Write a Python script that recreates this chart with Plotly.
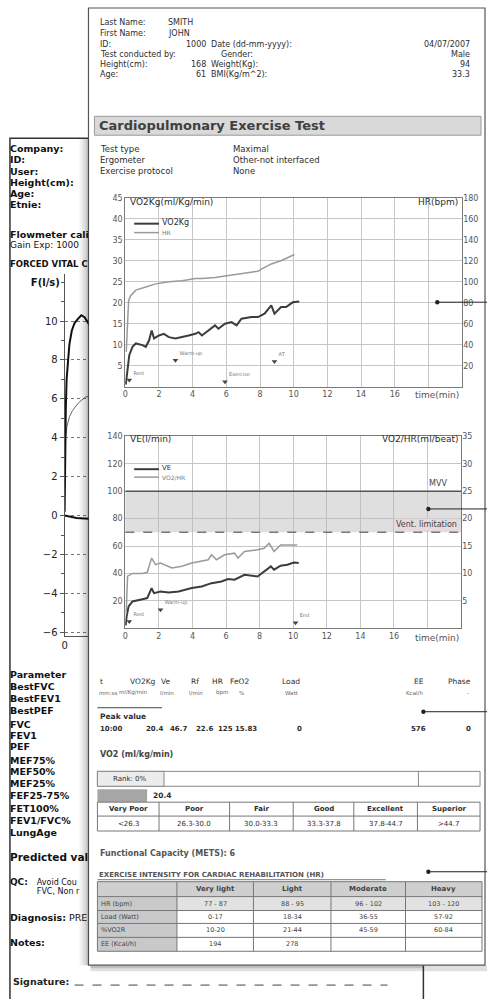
import plotly.graph_objects as go

W, H = 487, 999
FONT = "DejaVu Sans"

# ---------------- data ----------------
# Chart 1: VO2Kg (ml/Kg/min, left axis) and HR (bpm, right axis) vs time (min)
t_vo2kg = [0.03, 0.08, 0.16, 0.24, 0.43, 0.63, 1.02, 1.22, 1.41, 1.57, 1.71, 2.0, 2.29, 2.59, 2.98,
           3.37, 3.76, 4.16, 4.35, 4.55, 4.94, 5.33, 5.53, 5.92, 6.31, 6.61, 6.9, 7.49, 7.88, 8.27,
           8.67, 8.86, 9.25, 9.55, 9.94, 10.33]
vo2kg = [0.5, 2.5, 6.0, 7.5, 9.5, 10.3, 9.9, 9.5, 11.0, 13.4, 11.5, 12.2, 12.6, 11.8, 11.5,
         11.8, 12.2, 12.6, 13.0, 12.2, 13.4, 14.6, 13.8, 15.0, 15.4, 14.6, 16.2, 16.6, 16.6, 17.4,
         19.4, 17.4, 19.0, 19.0, 20.1, 20.3]
t_hr = [0.06, 0.12, 0.2, 0.33, 0.63, 1.22, 1.8, 2.59, 3.37, 4.16, 4.55, 5.33, 6.12, 6.9, 7.88,
        8.08, 8.67, 9.25, 9.84, 10.04]
hr = [33, 60, 82, 87, 92, 95, 98, 100, 101, 103, 103, 104, 106, 108, 110, 112, 117, 120, 124, 126]

ev1_t = [0.24, 2.98, 5.92, 8.86]
ev1_y = [1.6, 6.3, 1.2, 6.0]
ev1_lab = ["Rest", "Warm-up", "Exercise", "AT"]

# Chart 2: VE (l/min, left axis) and VO2/HR (ml/beat, right axis) vs time (min)
t_ve = [0.03, 0.08, 0.2, 0.43, 1.02, 1.31, 1.57, 1.71, 2.1, 2.59, 3.18, 3.96, 4.55, 5.14, 5.73,
        6.12, 6.51, 7.1, 7.88, 8.27, 8.67, 8.86, 9.25, 9.65, 10.04, 10.33]
ve = [2.0, 8.5, 15.9, 19.5, 21.2, 22.0, 29.3, 25.6, 26.8, 26.1, 26.8, 29.3, 30.5, 32.9, 34.1,
      35.9, 35.4, 39.0, 37.8, 41.5, 45.1, 42.7, 45.6, 46.3, 48.0, 47.6]
t_vo2hr = [0.05, 0.1, 0.14, 0.43, 1.02, 1.31, 1.57, 1.8, 2.1, 2.78, 3.37, 3.96, 4.55, 4.94, 5.14,
           5.43, 5.92, 6.51, 6.71, 7.1, 7.88, 8.27, 8.57, 8.86, 9.25, 9.65, 10.24]
vo2hr = [2.5, 6.0, 9.5, 10.0, 10.0, 10.2, 12.8, 11.6, 11.9, 11.0, 11.3, 11.9, 12.2, 12.5, 13.4,
         12.5, 13.4, 13.7, 12.8, 14.0, 14.3, 14.6, 15.5, 14.0, 15.2, 15.2, 15.2]
mvv = 100
vent_limit = 70
ev2_t = [0.24, 2.1, 10.14]
ev2_y = [4.9, 13.4, 4.0]
ev2_lab = ["Rest", "Warm-up", "End"]

time_ticks = [0, 2, 4, 6, 8, 10, 12, 14, 16, 18]
time_labels = ["0", "2", "4", "6", "8", "10", "12", "14", "16", ""]
time_max = 20

# Flow-volume (left page, partly hidden)
vol_exp = [0, 0.003, 0.008, 0.015, 0.03, 0.05, 0.08, 0.12, 0.18, 0.25, 0.33, 0.42, 0.5, 0.58, 0.7, 1.0, 1.5]
flow_exp = [0.2, 1.2, 2.2, 4.0, 5.5, 7.0, 8.0, 8.8, 9.5, 9.9, 10.1, 10.3, 10.2, 9.9, 9.4, 8.5, 7.0]
vol_pred = [0, 0.005, 0.012, 0.025, 0.06, 0.125, 0.2, 0.35, 0.53, 0.7, 1.0]
flow_pred = [1.2, 2.2, 3.2, 4.0, 4.6, 5.1, 5.4, 5.8, 6.1, 6.2, 6.2]
vol_insp = [0, 0.1, 0.3, 0.5, 0.7]
flow_insp = [0, -0.05, -0.12, -0.15, -0.18]

# Report texts
header_left = [("Last Name:", "SMITH"), ("First Name:", "JOHN"), ("ID:", "1000"),
               ("Test conducted by:", ""), ("Height(cm):", "168"), ("Age:", "61")]
header_right = [("", ""), ("", ""), ("Date (dd-mm-yyyy):", "04/07/2007"), ("Gender:", "Male"),
                ("Weight(Kg):", "94"), ("BMI(Kg/m^2):", "33.3")]
test_info = [("Test type", "Maximal"), ("Ergometer", "Other-not interfaced"), ("Exercise protocol", "None")]

peak_hdr = ["t", "VO2Kg", "Ve", "Rf", "HR", "FeO2", "Load", "EE", "Phase"]
peak_unit = ["mm:ss", "ml/Kg/min", "l/min", "l/min", "bpm", "%", "Watt", "Kcal/h", "-"]
peak_val = ["10:00", "20.4", "46.7", "22.6", "125", "15.83", "0", "576", "0"]

vo2_peak = "20.4"
vo2_rank = "Rank: 0%"
vo2_cat = ["Very Poor", "Poor", "Fair", "Good", "Excellent", "Superior"]
vo2_rng = ["<26.3", "26.3-30.0", "30.0-33.3", "33.3-37.8", "37.8-44.7", ">44.7"]

rehab_cols = ["Very light", "Light", "Moderate", "Heavy"]
rehab_rows = ["HR (bpm)", "Load (Watt)", "%VO2R", "EE (Kcal/h)"]
rehab_vals = [["77 - 87", "88 - 95", "96 - 102", "103 - 120"],
              ["0-17", "18-34", "36-55", "57-92"],
              ["10-20", "21-44", "45-59", "60-84"],
              ["194", "278", "", ""]]

left_labels = ["Company:", "ID:", "User:", "Height(cm):", "Age:", "Etnie:"]
param_labels = ["Parameter", "BestFVC", "BestFEV1", "BestPEF", "FVC", "FEV1", "PEF", "MEF75%",
                "MEF50%", "MEF25%", "FEF25-75%", "FET100%", "FEV1/FVC%", "LungAge"]

# ---------------- helpers ----------------
def px(x): return x / W
def py(y): return 1 - y / H

shapes, anns = [], []

def rect(x0, y0, x1, y1, fill="rgba(0,0,0,0)", line="rgba(0,0,0,0)", lw=0, layer="below"):
    shapes.append(dict(type="rect", xref="paper", yref="paper", x0=px(x0), x1=px(x1),
                       y0=py(y1), y1=py(y0), fillcolor=fill, line=dict(color=line, width=lw), layer=layer))

def seg(x0, y0, x1, y1, color="#555", lw=1, dash="solid", layer="below"):
    shapes.append(dict(type="line", xref="paper", yref="paper", x0=px(x0), x1=px(x1),
                       y0=py(y0), y1=py(y1), line=dict(color=color, width=lw, dash=dash), layer=layer))

def dot(x, y, r=2.2):
    shapes.append(dict(type="circle", xref="paper", yref="paper", x0=px(x - r), x1=px(x + r),
                       y0=py(y + r), y1=py(y - r), fillcolor="#222", line=dict(color="#222", width=0), layer="above"))

TXT = "#2e2e2e"
def text(x, y, s, size=8, bold=False, anchor="left", color=TXT, **kw):
    anns.append(dict(xref="paper", yref="paper", x=px(x), y=py(y), text=f"<b>{s}</b>" if bold else s,
                     showarrow=False, xanchor=anchor, yanchor="middle",
                     font=dict(family=FONT, size=size, color=color), borderpad=0, **kw))

# ---------------- pages ----------------
rect(7, 135, 423, 1010, fill="white", line="#333", lw=1.5)          # back page
rect(86, 4, 485, 967, fill="white", line="#555", lw=1.2)            # front page
# shadow of the front page on the back page
rect(77, 135.8, 86, 967, fill="rgba(0,0,0,0.05)", layer="above")
rect(80, 135.8, 86, 967, fill="rgba(0,0,0,0.07)", layer="above")
rect(83, 135.8, 86, 967, fill="rgba(0,0,0,0.10)", layer="above")
rect(88, 967.6, 423, 973, fill="rgba(0,0,0,0.12)", layer="above")
rect(88, 967.6, 423, 970, fill="rgba(0,0,0,0.15)", layer="above")
rect(423.8, 967.6, 487, 973, fill="rgba(0,0,0,0.12)", layer="above")

# ---------------- front page header ----------------
hy = [19, 30, 41, 51, 61, 71]
for (lab, val), (lab2, val2), y in zip(header_left, header_right, hy):
    text(97, y, lab, 8)
    if val:
        if lab in ("Last Name:", "First Name:"):
            text(165, y, val, 8)
        else:
            text(205, y, val, 8, anchor="right")
    if lab2:
        x2 = 218 if lab2 == "Gender:" else 208
        text(x2, y, lab2, 8)
        text(471, y, val2, 8, anchor="right")

rect(92, 113, 481, 132, fill="#d9d9d9", line="#9a9a9a", lw=1)
text(96, 122.5, "Cardiopulmonary Exercise Test", 13, bold=True, color="#404040")
for (lab, val), y in zip(test_info, [146, 157, 168]):
    text(97, y, lab, 8.5)
    text(230, y, val, 8.5)

# ---------------- chart 1 decorations ----------------
text(127, 199, "VO2Kg(ml/Kg/min)", 9)
text(459, 199, "HR(bpm)", 9, anchor="right")
seg(132, 221, 157, 221, color="#3c3c3c", lw=2, layer="above")
seg(132, 230, 157, 230, color="#9a9a9a", lw=1.5, layer="above")
text(159, 220, "VO2Kg", 8)
text(159, 230, "HR", 6, color="#777")
text(460, 393, "time(min)", 9, anchor="right", color="#555")

# ---------------- chart 2 decorations ----------------
text(127, 438, "VE(l/min)", 9)
text(459, 438, "VO2/HR(ml/beat)", 9, anchor="right")
seg(132, 468, 157, 468, color="#3c3c3c", lw=2, layer="above")
seg(132, 476, 157, 476, color="#9a9a9a", lw=1.5, layer="above")
text(159, 467, "VE", 7)
text(159, 476, "VO2/HR", 6, color="#777")
text(460, 638, "time(min)", 9, anchor="right", color="#555")
anns.append(dict(xref="x2", yref="y3", x=18.6, y=mvv + 1, text="MVV", showarrow=False,
                 xanchor="center", yanchor="bottom", font=dict(family=FONT, size=8, color="#444")))
anns.append(dict(xref="x2", yref="y3", x=19.9, y=vent_limit + 1, text="Vent. limitation", showarrow=False,
                 xanchor="right", yanchor="bottom", bgcolor="#e6dada",
                 font=dict(family=FONT, size=8, color="#444")))

# ---------------- peak value table ----------------
hdr_x = [97, 155, 170, 198, 222, 249, 300, 425, 472]
unit_x = [96, 147, 173, 202, 227, 244, 299, 424, 470]
val_x = [97, 162, 186, 212, 232, 257, 302, 427, 472]
for i, (hh, uu, vv) in enumerate(zip(peak_hdr, peak_unit, peak_val)):
    anc = "left" if i == 0 else "right"
    text(hdr_x[i], 682, hh, 7.5, anchor=anc)
    text(unit_x[i], 693, uu, 5.5, anchor=anc, color="#666")
    text(val_x[i], 729, vv, 7, bold=True, anchor=anc)
seg(95, 708, 160, 708, color="#444", lw=1)
text(97, 717, "Peak value", 7.5, bold=True)

# ---------------- VO2 rating ----------------
text(97, 755, "VO2 (ml/kg/min)", 8, bold=True, color="#444")
rect(95, 772, 480, 787, fill="white", line="#888", lw=1)
rect(95, 772, 162, 787, fill="#ececec", line="#888", lw=1)
seg(418, 772, 418, 787, color="#888")
text(128, 779.5, vo2_rank, 7, anchor="center")
rect(95, 790, 145, 803, fill="#a6a6a6")
text(150, 796.5, vo2_peak, 7.5, bold=True)
cb = [95, 157, 228, 292, 353, 417, 480]
rect(95, 803, 480, 832, fill="white", line="#777", lw=1)
seg(95, 817, 480, 817, color="#777")
for i in range(6):
    if i > 0:
        seg(cb[i], 803, cb[i], 832, color="#777")
    cx = (cb[i] + cb[i + 1]) / 2
    text(cx, 810, vo2_cat[i], 7, bold=True, anchor="center")
    text(cx, 824.5, vo2_rng[i], 7, anchor="center")

# ---------------- rehabilitation table ----------------
text(97, 855, "Functional Capacity (METS): 6", 8, bold=True, color="#555")
text(96, 876, "EXERCISE INTENSITY FOR CARDIAC REHABILITATION (HR)", 7, bold=True, color="#555")
seg(95, 881, 385, 881, color="#777")
rb = [883, 898, 912, 925, 939, 953]
kb = [95, 175, 252, 330, 405, 482]
rect(95, 883, 482, 898, fill="#cfcfcf")
rect(175, 898, 482, 912, fill="#e2e2e2")
rect(95, 898, 175, 953, fill="#c9c9c9")
for y in rb:
    seg(95, y, 482, y, color="#777")
for x in kb:
    seg(x, 883, x, 953, color="#777")
for j, c in enumerate(rehab_cols):
    text((kb[j + 1] + kb[j + 2]) / 2, 890.5, c, 7, bold=True, anchor="center", color="#444")
for i, r in enumerate(rehab_rows):
    yc = (rb[i + 1] + rb[i + 2]) / 2
    text(98, yc, r, 6.5, color="#444")
    for j, v in enumerate(rehab_vals[i]):
        if v:
            text((kb[j + 1] + kb[j + 2]) / 2, yc, v, 6.5, anchor="center", color="#444")

# ---------------- call-out pointers ----------------
for (x, y) in [(437, 300), (428, 508), (423, 712), (428, 873)]:
    seg(x, y, 487, y, color="#222", lw=1, layer="above")
    dot(x, y)

# ---------------- back page text (clipped at the front page edge) ----------------
lp_x, lp_y, lp_t, lp_s = [], [], [], []
def lp(x, y, s, size=9.5):
    lp_x.append(x); lp_y.append(y); lp_t.append(s); lp_s.append(size)

for lab, y in zip(left_labels, [147, 158, 170, 181, 192, 203]):
    lp(7, y, f"<b>{lab}</b>")
lp(7, 233, "<b>Flowmeter calil</b>")
lp(7, 243, "Gain Exp: 1000", 9)
lp(7, 262, "<b>FORCED VITAL C</b>", 8.5)
lp(28, 281, "<b>F(l/s)</b>", 10)
for lab, y in zip(param_labels, [676, 688, 700, 712, 726, 737, 748, 762, 773, 785, 797, 810, 823, 835]):
    lp(7, y, f"<b>{lab}</b>")
lp(7, 860, "<b>Predicted valu</b>", 10.5)
lp(7, 884, "<b>QC:</b>", 9)
lp(34, 884, "Avoid Cou", 8)
lp(34, 893, "FVC, Non r", 8)
lp(7, 920, "<b>Diagnosis:</b> PRE", 9.5)
lp(7, 945, "<b>Notes:</b>", 9.5)

text(9, 983, "Signature:", 9.5, bold=True, color="#222")
seg(72, 987, 387, 987, color="#444", lw=1, dash="dash")

# ---------------- traces ----------------
fig = go.Figure()
# chart 1
fig.add_trace(go.Scatter(x=t_hr, y=hr, xaxis="x", yaxis="y2", mode="lines",
                         line=dict(color="#9a9a9a", width=1.5), showlegend=False))
fig.add_trace(go.Scatter(x=t_vo2kg, y=vo2kg, xaxis="x", yaxis="y", mode="lines",
                         line=dict(color="#3c3c3c", width=2), showlegend=False))
fig.add_trace(go.Scatter(x=ev1_t, y=ev1_y, xaxis="x", yaxis="y", mode="markers+text",
                         marker=dict(symbol="triangle-down", size=5, color="#444"),
                         text=ev1_lab, textposition="top right",
                         textfont=dict(family=FONT, size=5, color="#777"), showlegend=False))
# chart 2
fig.add_trace(go.Scatter(x=[0, time_max, time_max, 0, 0],
                         y=[vent_limit, vent_limit, mvv, mvv, vent_limit],
                         xaxis="x2", yaxis="y3", mode="lines", fill="toself",
                         fillcolor="rgba(185,185,185,0.45)", line=dict(width=0), showlegend=False))
fig.add_trace(go.Scatter(x=[0, time_max], y=[mvv, mvv], xaxis="x2", yaxis="y3", mode="lines",
                         line=dict(color="#555", width=1.5), showlegend=False))
fig.add_trace(go.Scatter(x=[0, time_max], y=[vent_limit, vent_limit], xaxis="x2", yaxis="y3", mode="lines",
                         line=dict(color="#777", width=1.5, dash="dash"), showlegend=False))
fig.add_trace(go.Scatter(x=t_vo2hr, y=vo2hr, xaxis="x2", yaxis="y4", mode="lines",
                         line=dict(color="#9a9a9a", width=1.5), showlegend=False))
fig.add_trace(go.Scatter(x=t_ve, y=ve, xaxis="x2", yaxis="y3", mode="lines",
                         line=dict(color="#3c3c3c", width=2), showlegend=False))
fig.add_trace(go.Scatter(x=ev2_t, y=ev2_y, xaxis="x2", yaxis="y3", mode="markers+text",
                         marker=dict(symbol="triangle-down", size=5, color="#444"),
                         text=ev2_lab, textposition="top right",
                         textfont=dict(family=FONT, size=5, color="#777"), showlegend=False))
# flow-volume
fig.add_trace(go.Scatter(x=vol_pred, y=flow_pred, xaxis="x3", yaxis="y5", mode="lines",
                         line=dict(color="#666", width=1), showlegend=False))
fig.add_trace(go.Scatter(x=vol_exp, y=flow_exp, xaxis="x3", yaxis="y5", mode="lines",
                         line=dict(color="#111", width=2), showlegend=False))
fig.add_trace(go.Scatter(x=vol_insp, y=flow_insp, xaxis="x3", yaxis="y5", mode="lines",
                         line=dict(color="#111", width=2), showlegend=False))
# back-page text
fig.add_trace(go.Scatter(x=lp_x, y=lp_y, text=lp_t, mode="text", textposition="middle right",
                         textfont=dict(family=FONT, size=lp_s, color="#111"),
                         xaxis="x4", yaxis="y6", cliponaxis=True, showlegend=False, hoverinfo="skip"))

# ---------------- axes ----------------
tf = dict(family=FONT, size=8, color="#555")
base = dict(showline=True, linecolor="#7a7a7a", linewidth=1, mirror=True, gridcolor="#c6c6c6",
            gridwidth=1, zeroline=False, ticks="", tickfont=tf, fixedrange=True)

def dx(a, b): return [a / W, b / W]
def dy(top, bottom): return [1 - bottom / H, 1 - top / H]

fig.update_layout(
    width=W, height=H, margin=dict(l=0, r=0, t=0, b=0),
    paper_bgcolor="white", plot_bgcolor="rgba(0,0,0,0)", showlegend=False,
    shapes=shapes, annotations=anns,
    xaxis=dict(base, domain=dx(123, 462), range=[0, time_max], tickvals=time_ticks,
               ticktext=time_labels, anchor="y"),
    yaxis=dict(base, domain=dy(195, 385), range=[0, 45], tickvals=list(range(5, 50, 5)), anchor="x"),
    yaxis2=dict(overlaying="y", side="right", range=[0, 180], tickvals=list(range(20, 200, 20)),
                showgrid=False, showline=False, zeroline=False, ticks="", tickfont=tf, anchor="x",
                fixedrange=True),
    xaxis2=dict(base, domain=dx(123, 461), range=[0, time_max], tickvals=time_ticks,
                ticktext=time_labels, anchor="y3"),
    yaxis3=dict(base, domain=dy(435, 628), range=[0, 140], tickvals=list(range(20, 160, 20)), anchor="x2"),
    yaxis4=dict(overlaying="y3", side="right", range=[0, 35], tickvals=list(range(5, 40, 5)),
                showgrid=False, showline=False, zeroline=False, ticks="", tickfont=tf, anchor="x2",
                fixedrange=True),
    xaxis3=dict(domain=dx(62, 86), range=[0, 0.6], anchor="y5", showline=True, linecolor="#555",
                showgrid=False, zeroline=False, tickvals=[0], ticktext=["0"], ticks="",
                tickfont=dict(family=FONT, size=10, color="#222"), fixedrange=True),
    yaxis5=dict(domain=dy(272, 636), range=[-6.2, 12.4], anchor="x3", showline=True, linecolor="#555",
                zeroline=False, tickvals=list(range(-6, 12, 2)), ticks="outside", ticklen=4,
                tickcolor="#555", showgrid=True, gridcolor="#777", griddash="dot",
                minor=dict(dtick=1, tick0=0, ticks="outside", ticklen=3, tickcolor="#555", showgrid=False),
                tickfont=dict(family=FONT, size=10, color="#222"), fixedrange=True),
    xaxis4=dict(domain=dx(0, 86), range=[0, 86], visible=False, anchor="y6", fixedrange=True),
    yaxis6=dict(domain=[0, 1], range=[H, 0], visible=False, anchor="x4", fixedrange=True),
)

fig.write_html("out.html", config={"displayModeBar": False},
               post_script="document.body.style.margin='0';document.body.style.overflow='hidden';")
